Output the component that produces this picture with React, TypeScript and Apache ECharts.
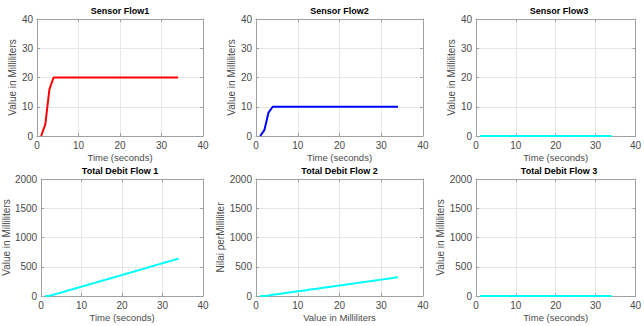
import React, { useEffect, useRef } from "react";
import * as echarts from "echarts";

const time = [1, 2, 3, 4, 5, 6, 7, 8, 9, 10, 11, 12, 13, 14, 15, 16, 17, 18, 19, 20, 21, 22, 23, 24, 25, 26, 27, 28, 29, 30, 31, 32, 33, 34];
const flow1 = [0, 4, 16, 20, 20, 20, 20, 20, 20, 20, 20, 20, 20, 20, 20, 20, 20, 20, 20, 20, 20, 20, 20, 20, 20, 20, 20, 20, 20, 20, 20, 20, 20, 20];
const flow2 = [0, 2, 8, 10, 10, 10, 10, 10, 10, 10, 10, 10, 10, 10, 10, 10, 10, 10, 10, 10, 10, 10, 10, 10, 10, 10, 10, 10, 10, 10, 10, 10, 10, 10];
const flow3 = [0, 0, 0, 0, 0, 0, 0, 0, 0, 0, 0, 0, 0, 0, 0, 0, 0, 0, 0, 0, 0, 0, 0, 0, 0, 0, 0, 0, 0, 0, 0, 0, 0, 0];
const total1 = [0, 4, 20, 40, 60, 80, 100, 120, 140, 160, 180, 200, 220, 240, 260, 280, 300, 320, 340, 360, 380, 400, 420, 440, 460, 480, 500, 520, 540, 560, 580, 600, 620, 640];
const total2 = [0, 2, 10, 20, 30, 40, 50, 60, 70, 80, 90, 100, 110, 120, 130, 140, 150, 160, 170, 180, 190, 200, 210, 220, 230, 240, 250, 260, 270, 280, 290, 300, 310, 320];
const total3 = [0, 0, 0, 0, 0, 0, 0, 0, 0, 0, 0, 0, 0, 0, 0, 0, 0, 0, 0, 0, 0, 0, 0, 0, 0, 0, 0, 0, 0, 0, 0, 0, 0, 0];

const titles = ["Sensor Flow1", "Sensor Flow2", "Sensor Flow3", "Total Debit Flow 1", "Total Debit Flow 2", "Total Debit Flow 3"];
const xNames = ["Time (seconds)", "Time (seconds)", "Time (seconds)", "Time (seconds)", "Value in Milliliters", "Time (seconds)"];
const yNames = ["Value in Milliliters", "Value in Milliliters", "Value in Milliliters", "Value in Milliliters", "Nilai perMilliliter", "Value in Milliliters"];
const seriesValues = [flow1, flow2, flow3, total1, total2, total3];
const colors = ["#ff0000", "#0000ff", "#00ffff", "#00ffff", "#00ffff", "#00ffff"];
const xMax = 40;
const xInterval = 10;
const yMaxes = [40, 40, 40, 2000, 2000, 2000];
const yIntervals = [10, 10, 10, 500, 500, 500];

const FONT = "'Liberation Sans', Arial, Helvetica, sans-serif";
const BOX = "#a0a0a0";
const GRIDC = "#e6e6e6";
const LABEL = "#4a4a4a";

export default function App() {
  const ref = useRef<HTMLDivElement>(null);
  useEffect(() => {
    if (!ref.current) return;
    const chart = echarts.init(ref.current, undefined, { renderer: "svg" });
    const lefts = [37, 256, 476];
    const widths = [166, 167, 166];
    const tops = [19, 179];
    const grids: any[] = [];
    const xAxes: any[] = [];
    const yAxes: any[] = [];
    const series: any[] = [];
    const title: any[] = [];
    const plain = (v: number) => String(v);
    for (let i = 0; i < 6; i++) {
      const col = i % 3;
      const row = Math.floor(i / 3);
      grids.push({ left: lefts[col], top: tops[row], width: widths[col], height: 117, containLabel: false });
      title.push({
        text: titles[i],
        left: lefts[col] + widths[col] / 2,
        top: tops[row] - 13,
        textAlign: "center",
        padding: 0,
        textStyle: { fontFamily: FONT, fontSize: 9, fontWeight: "bold", color: "#000" },
      });
      const common = {
        gridIndex: i,
        min: 0,
        axisLine: { show: true, onZero: false, lineStyle: { color: BOX, width: 1 } },
        axisTick: { show: true, inside: true, length: 3, lineStyle: { color: BOX } },
      };
      xAxes.push({
        ...common,
        type: "value",
        position: "bottom",
        max: xMax,
        interval: xInterval,
        name: xNames[i],
        nameLocation: "middle",
        nameGap: 16,
        nameTextStyle: { fontFamily: FONT, fontSize: 9.5, color: LABEL },
        axisLabel: { fontFamily: FONT, fontSize: 10, color: LABEL, margin: 4, formatter: plain },
        splitLine: { show: true, lineStyle: { color: GRIDC, width: 1 } },
      });
      xAxes.push({
        ...common,
        type: "value",
        position: "top",
        max: xMax,
        interval: xInterval,
        axisLabel: { show: false },
        splitLine: { show: false },
      });
      yAxes.push({
        ...common,
        type: "value",
        position: "left",
        max: yMaxes[i],
        interval: yIntervals[i],
        name: yNames[i],
        nameLocation: "middle",
        nameGap: row === 0 ? 14 : 23,
        nameTextStyle: { fontFamily: FONT, fontSize: 10, color: LABEL },
        axisLabel: { fontFamily: FONT, fontSize: 10, color: LABEL, margin: 4, formatter: plain },
        splitLine: { show: true, lineStyle: { color: GRIDC, width: 1 } },
      });
      yAxes.push({
        ...common,
        type: "value",
        position: "right",
        max: yMaxes[i],
        interval: yIntervals[i],
        axisLabel: { show: false },
        splitLine: { show: false },
      });
      series.push({
        type: "line",
        xAxisIndex: i * 2,
        yAxisIndex: i * 2,
        data: time.map((t, k) => [t, seriesValues[i][k]]),
        showSymbol: false,
        symbol: "none",
        clip: false,
        z: 10,
        lineStyle: { color: colors[i], width: 2 },
      });
    }
    chart.setOption({
      animation: false,
      backgroundColor: "#ffffff",
      title,
      grid: grids,
      xAxis: xAxes,
      yAxis: yAxes,
      series,
    });
    return () => chart.dispose();
  }, []);
  return (
    <div
      ref={ref}
      style={{ position: "fixed", left: 0, top: 0, width: 644, height: 326, background: "#fff" }}
    />
  );
}
